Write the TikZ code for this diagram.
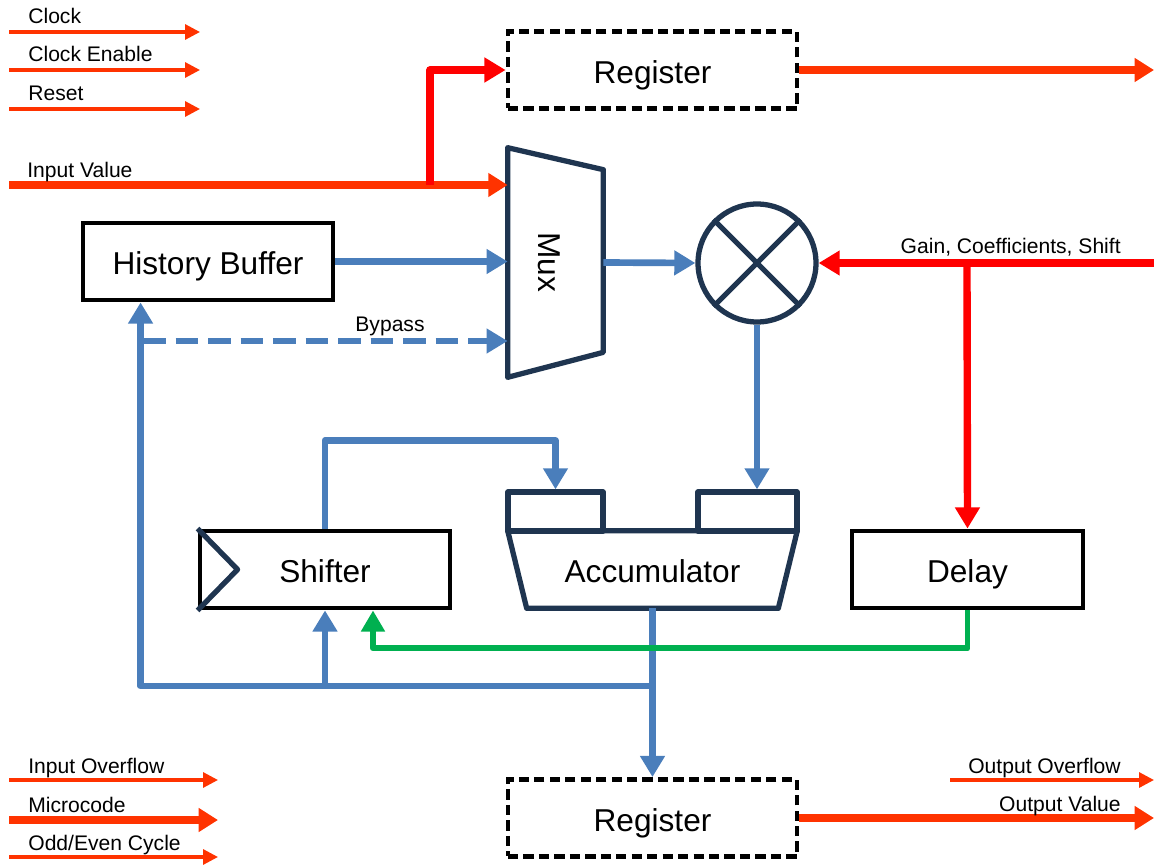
\documentclass[tikz,border=0pt]{standalone}
\usepackage{fontspec}
\setmainfont{Liberation Sans}
\usetikzlibrary{arrows.meta,calc}
\definecolor{sigred}{HTML}{FF3300}
\definecolor{brred}{HTML}{FF0000}
\definecolor{flowblue}{HTML}{4A7EBB}
\definecolor{navy}{HTML}{1F3550}
\definecolor{fbgreen}{HTML}{00B050}
\tikzset{
    boxtext/.style={inner sep=0pt, text height=15.6pt, text depth=0.4pt, font=\fontsize{18}{21}\selectfont},
    box/.style={boxtext, draw=black, line width=2.8pt, minimum width=5cm, minimum height=1.54cm},
    regbox/.style={box, dash pattern=on 5.8pt off 3pt, minimum width=5.78cm},
    part/.style={draw=navy, line width=3pt, line join=round},
    lbl/.style={inner sep=0pt, font=\fontsize{12}{14}\selectfont},
    thinsig/.style={draw=sigred, line width=1.8pt, -{Triangle[length=8.5pt,width=8.5pt]}},
    bus/.style={draw=sigred, line width=5pt, -{Triangle[length=11pt,width=13pt]}},
    redbus/.style={draw=brred, line width=4.2pt, line join=round, -{Triangle[length=12pt,width=13.5pt]}},
    flow/.style={draw=flowblue, line width=3.8pt, line join=round, -{Triangle[length=12pt,width=13.5pt]}},
    fbk/.style={draw=fbgreen, line width=3.4pt, line join=round, -{Triangle[length=12pt,width=13pt]}}
}
\begin{document}
\begin{tikzpicture}[x=0.02cm, y=-0.02cm]
    \useasboundingbox (0,0) rectangle (1154,865);
    % blocks
    \node[regbox] (regtop) at (652.5,70) {Register};
    \node[regbox] (regbot) at (652.5,818) {Register};
    \node[box] (hist) at (208,261.5) {History Buffer};
    \node[box] (shifter) at (325,569.5) {Shifter};
    \node[box, minimum width=4.62cm] (delay) at (967.5,569.5) {Delay};
    \node[minimum width=1.9cm, minimum height=4.58cm, inner sep=0pt] (mux) at (555.5,262.5) {};
    \node[rotate=-90, font=\fontsize{18}{21}\selectfont] (muxlbl) at ($(mux.center)+(-6,0)$) {Mux};
    \node[circle, part, minimum size=2.36cm, inner sep=0pt] (mult) at (757,263) {};
    \node[boxtext, minimum width=5.78cm, minimum height=1.54cm] (acc) at (652.5,569.5) {Accumulator};
    \node[part, minimum width=1.9cm, minimum height=0.78cm, inner sep=0pt] (accl) at (555.5,511.5) {};
    \node[part, minimum width=1.98cm, minimum height=0.78cm, inner sep=0pt] (accr) at (747.5,511.5) {};
    \draw[part] (mux.north west) -- ($(mux.north east)+(0,22)$) -- ($(mux.south east)+(0,-25)$) -- (mux.south west) -- cycle;
    \draw[part] (mult.north west) -- (mult.south east) (mult.north east) -- (mult.south west);
    \draw[part] (acc.north west) -- (acc.north east) -- ($(acc.south east)+(-19,0)$) -- ($(acc.south west)+(19,0)$) -- cycle;
    \draw[part] (shifter.north west) -- ($(shifter.west)+(40,0)$) -- (shifter.south west);

    % control signals
    \foreach \y/\t in {32/Clock, 70/Clock Enable, 109/Reset}{
        \coordinate (ctl\y) at (9,\y);
        \draw[thinsig] (ctl\y) -- ++(191,0);
        \node[lbl, anchor=base west] (ctllbl\y) at (28,\y-8) {\t};};
    \foreach \y/\t in {780/{Input Overflow}, 857/{Odd/Even Cycle}}{
        \coordinate (st\y) at (9,\y);
        \draw[thinsig] (st\y) -- ++(209,0);
        \node[lbl, anchor=base west] (stlbl\y) at (28,\y-7) {\t};};
    \coordinate (mcode) at (9,820);
    \draw[bus] (mcode) -- ++(209,0);
    \node[lbl, anchor=base west] (mcodelbl) at (28,812) {Microcode};

    % input value and top register
    \coordinate (inval) at (9,185);
    \coordinate (tap) at (430,185);
    \draw[bus] (inval) -- (inval -| mux.west);
    \node[lbl, anchor=base west] (invallbl) at (27,178) {Input Value};
    \draw[redbus] (tap) |- (regtop.west);
    \coordinate (regout) at (1154,70);
    \draw[bus] (regtop.east) -- (regout);

    % data path
    \draw[flow] (hist.east) -- (hist.east -| mux.west);
    \coordinate (byp) at (143,341);
    \draw[flow, dash pattern=on 13pt off 5.5pt] (byp) -- (byp -| mux.west);
    \node[lbl, anchor=base] (byplbl) at (390,331) {Bypass};
    \draw[flow] (mux.east) -- (mult.west);
    \coordinate (gain) at (1154,263);
    \coordinate (gtap) at (967,263);
    \draw[redbus] (gain) -- (mult.east);
    \draw[redbus] (gtap) -- (delay.north);
    \node[lbl, anchor=base east] (gainlbl) at (1121,254) {Gain, Coefficients, Shift};
    \draw[flow] (mult.south) -- (mult.south |- accr.north);
    \draw[flow] (shifter.north) -- ++(0,-88) -| (accl.north);
    \draw[flow] (acc.south) -- (regbot.north);
    \coordinate (fb) at (652,686);
    \draw[flow] (fb) -| ($(hist.south west)+(60,0)$);
    \draw[flow] (fb -| shifter.south) -- (shifter.south);
    \draw[fbk] (delay.south) -- ++(0,38) -| ($(shifter.south)+(48,0)$);

    % outputs
    \coordinate (ovf) at (950,780);
    \draw[thinsig] (ovf) -- ++(204,0);
    \node[lbl, anchor=base east] (ovflbl) at (1121,773) {Output Overflow};
    \coordinate (outval) at (1154,818);
    \draw[bus] (regbot.east) -- (outval);
    \node[lbl, anchor=base east] (outvallbl) at (1121,811) {Output Value};
\end{tikzpicture}
\end{document}
